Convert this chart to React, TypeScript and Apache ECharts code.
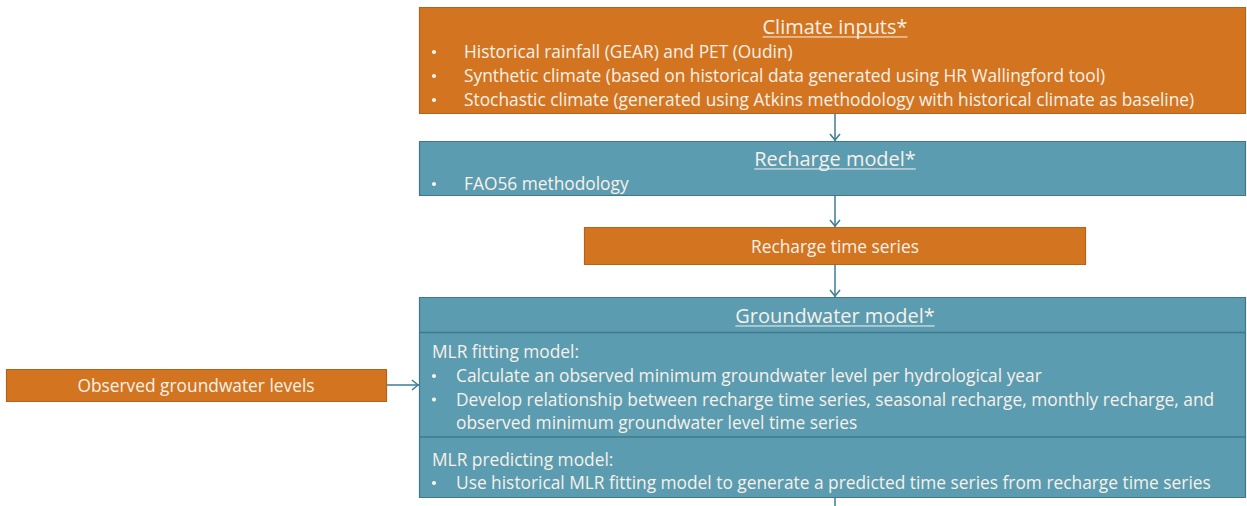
import React, { useEffect, useRef } from 'react';
import * as echarts from 'echarts';

const FONT_FAMILY = '"Open Sans"';
const ORANGE = '#D37520';
const ORANGE_BORDER = '#B5621B';
const TEAL = '#5C9CB0';
const TEAL_BORDER = '#3F788B';
const ARROW = '#3C7D96';
const TEXT = '#F7F1EA';

const climateTitle = 'Climate inputs*';
const climateItems = [
  'Historical rainfall (GEAR) and PET (Oudin)',
  'Synthetic climate (based on historical data generated using HR Wallingford tool)',
  'Stochastic climate (generated using Atkins methodology with historical climate as baseline)',
];
const rechargeTitle = 'Recharge model*';
const rechargeItems = ['FAO56 methodology'];
const rechargeSeriesLabel = 'Recharge time series';
const groundwaterTitle = 'Groundwater model*';
const fittingHeading = 'MLR fitting model:';
const fittingItems = [
  'Calculate an observed minimum groundwater level per hydrological year',
  'Develop relationship between recharge time series, seasonal recharge, monthly recharge, and',
];
const fittingContinuation = 'observed minimum groundwater level time series';
const predictingHeading = 'MLR predicting model:';
const predictingItems = [
  'Use historical MLR fitting model to generate a predicted time series from recharge time series',
];
const observedLabel = 'Observed groundwater levels';

function measure(text: string, size: number): number {
  const ctx = document.createElement('canvas').getContext('2d');
  if (!ctx) return text.length * size * 0.5;
  ctx.font = `${size}px ${FONT_FAMILY}`;
  return ctx.measureText(text).width;
}

function txt(text: string, x: number, y: number, size: number, align: string = 'left') {
  return {
    type: 'text',
    x,
    y,
    style: {
      text,
      fill: TEXT,
      font: `${size}px ${FONT_FAMILY}`,
      align,
      verticalAlign: 'middle',
    },
  };
}

function titleWithUnderline(text: string, cx: number, y: number, size: number) {
  const w = measure(text, size);
  return [
    txt(text, cx, y, size, 'center'),
    {
      type: 'line',
      shape: { x1: cx - w / 2, y1: y + size * 0.55, x2: cx + w / 2, y2: y + size * 0.55 },
      style: { stroke: TEXT, lineWidth: 1 },
    },
  ];
}

function box(x: number, y: number, w: number, h: number, fill: string, stroke: string) {
  return {
    type: 'rect',
    shape: { x: x + 0.5, y: y + 0.5, width: w, height: h },
    style: { fill, stroke, lineWidth: 1.2 },
  };
}

function bullets(items: string[], bx: number, tx: number, y0: number, step: number, size: number) {
  const out: any[] = [];
  items.forEach((t, i) => {
    out.push({
      type: 'circle',
      shape: { cx: bx + 2, cy: y0 + i * step + 1, r: 2.1 },
      style: { fill: TEXT },
    });
    out.push(txt(t, tx, y0 + i * step, size));
  });
  return out;
}

function vArrow(x: number, y1: number, y2: number) {
  return [
    { type: 'line', shape: { x1: x, y1, x2: x, y2 }, style: { stroke: ARROW, lineWidth: 1.5 } },
    {
      type: 'polyline',
      shape: { points: [[x - 5, y2 - 7], [x, y2 - 1], [x + 5, y2 - 7]] },
      style: { stroke: ARROW, lineWidth: 1.5, fill: 'none' },
    },
  ];
}

function hArrow(x1: number, x2: number, y: number) {
  return [
    { type: 'line', shape: { x1, y1: y, x2, y2: y }, style: { stroke: ARROW, lineWidth: 1.5 } },
    {
      type: 'polyline',
      shape: { points: [[x2 - 7, y - 5], [x2 - 1, y], [x2 - 7, y + 5]] },
      style: { stroke: ARROW, lineWidth: 1.5, fill: 'none' },
    },
  ];
}

export default function App() {
  const ref = useRef<HTMLDivElement>(null);
  useEffect(() => {
    document.body.style.margin = '0';
    if (!ref.current) return;
    const chart = echarts.init(ref.current, null, { renderer: 'svg' });
    const L = 419;
    const R = 1245;
    const CX = 835;
    // calibrate body font so the longest climate line spans ~731px, as in the reference
    const size = Math.max(14, Math.min(19, (16 * 731) / measure(climateItems[2], 16)));
    const tsize = Math.max(16, Math.min(22, (19 * 145) / measure(climateTitle, 19)));
    const elements: any[] = [
      // Climate inputs
      box(L, 7, R - L, 106, ORANGE, ORANGE_BORDER),
      ...titleWithUnderline(climateTitle, CX, 26, tsize),
      ...bullets(climateItems, 432, 464, 51, 24, size),
      ...vArrow(CX, 114, 141),
      // Recharge model
      box(L, 141, R - L, 54, TEAL, TEAL_BORDER),
      ...titleWithUnderline(rechargeTitle, CX, 158, tsize),
      ...bullets(rechargeItems, 432, 464, 183, 24, size),
      ...vArrow(CX, 196, 227),
      // Recharge time series
      box(584, 227, 501, 37, ORANGE, ORANGE_BORDER),
      txt(rechargeSeriesLabel, CX, 246, size, 'center'),
      ...vArrow(CX, 265, 297),
      // Groundwater model
      box(L, 297, R - L, 200, TEAL, TEAL_BORDER),
      ...titleWithUnderline(groundwaterTitle, CX, 315, tsize),
      { type: 'line', shape: { x1: L, y1: 332.5, x2: R, y2: 332.5 }, style: { stroke: TEAL_BORDER, lineWidth: 1.5 } },
      txt(fittingHeading, 432, 351, size),
      ...bullets(fittingItems, 432, 456, 375, 23.5, size),
      txt(fittingContinuation, 456, 422, size),
      { type: 'line', shape: { x1: L, y1: 437, x2: R, y2: 437 }, style: { stroke: TEAL_BORDER, lineWidth: 1.5 } },
      txt(predictingHeading, 432, 459, size),
      ...bullets(predictingItems, 432, 456, 482, 24, size),
      ...vArrow(CX, 498, 520),
      // Observed groundwater levels
      box(6, 369, 380, 32, ORANGE, ORANGE_BORDER),
      txt(observedLabel, 196, 385, size, 'center'),
      ...hArrow(387, 419, 385),
    ];
    chart.setOption({
      animation: false,
      backgroundColor: '#FFFFFF',
      graphic: { elements },
    });
    return () => chart.dispose();
  }, []);
  return <div ref={ref} style={{ position: 'fixed', left: 0, top: 0, width: 1247, height: 506 }} />;
}
